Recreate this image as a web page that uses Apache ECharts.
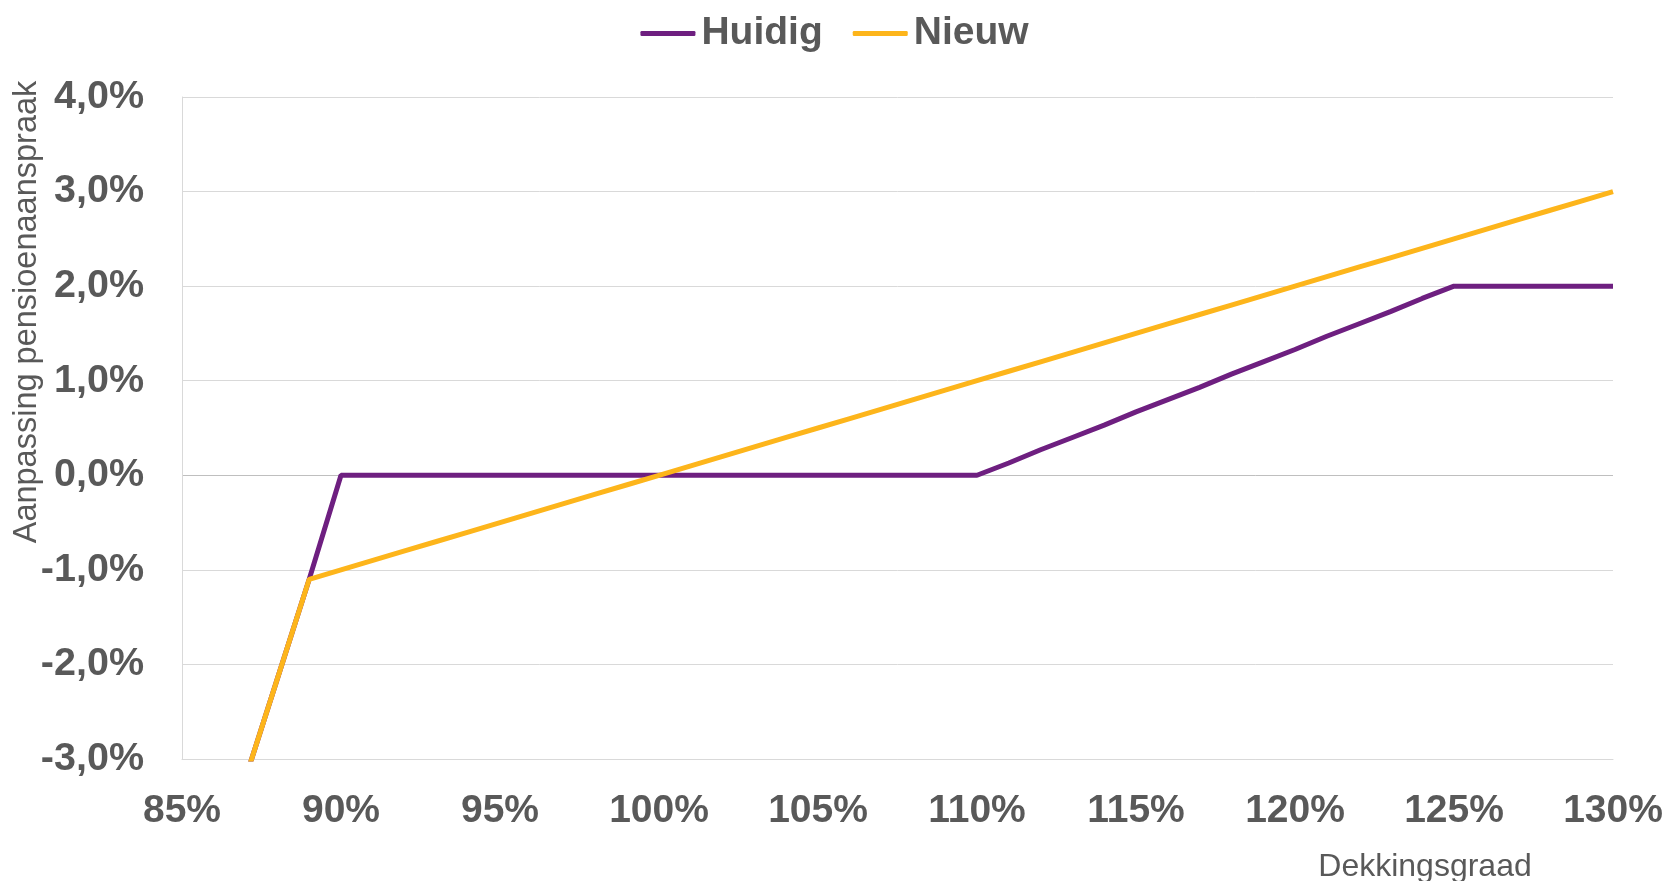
<!DOCTYPE html>
<html>
<head>
<meta charset="utf-8">
<script src="https://cdn.jsdelivr.net/npm/echarts@6/dist/echarts.min.js"></script>
<style>
  html, body { margin: 0; padding: 0; background: #ffffff; }
  #chart { width: 1669px; height: 881px; }
</style>
</head>
<body>
<div id="chart"></div>
<script>
// Dekkingsgraad (%)
var dekkingsgraad = [87, 88, 89, 90, 91, 92, 93, 94, 95, 96, 97, 98, 99, 100,
  101, 102, 103, 104, 105, 106, 107, 108, 109, 110,
  111, 112, 113, 114, 115, 116, 117, 118, 119, 120,
  121, 122, 123, 124, 125, 126, 127, 128, 129, 130];
// Aanpassing pensioenaanspraak (%) - Huidig
var huidig = [-3.2, -2.15, -1.1, 0, 0, 0, 0, 0, 0, 0, 0, 0, 0, 0,
  0, 0, 0, 0, 0, 0, 0, 0, 0, 0,
  0.13, 0.27, 0.4, 0.53, 0.67, 0.8, 0.93, 1.07, 1.2, 1.33,
  1.47, 1.6, 1.73, 1.87, 2.0, 2.0, 2.0, 2.0, 2.0, 2.0];
// Aanpassing pensioenaanspraak (%) - Nieuw
var nieuw = [-3.2, -2.15, -1.1, -1.0, -0.9, -0.8, -0.7, -0.6, -0.5, -0.4, -0.3, -0.2, -0.1, 0.0,
  0.1, 0.2, 0.3, 0.4, 0.5, 0.6, 0.7, 0.8, 0.9, 1.0,
  1.1, 1.2, 1.3, 1.4, 1.5, 1.6, 1.7, 1.8, 1.9, 2.0,
  2.1, 2.2, 2.3, 2.4, 2.5, 2.6, 2.7, 2.8, 2.9, 3.0];
var seriesNames = ['Huidig', 'Nieuw'];
var xTicks = { min: 85, max: 130, interval: 5 };
var yTicks = { min: -3, max: 4, interval: 1 };

function pairs(xs, ys) { return xs.map(function (x, i) { return [x, ys[i]]; }); }

var FONT = '"Liberation Sans", Arial, sans-serif';
var TEXT = '#595959';
var GRID = '#D9D9D9';

var chart = echarts.init(document.getElementById('chart'), null, { renderer: 'canvas' });
chart.setOption({
  animation: false,
  backgroundColor: '#ffffff',
  textStyle: { fontFamily: FONT },
  legend: {
    top: 9,
    left: 'center',
    itemWidth: 55,
    itemHeight: 5,
    itemGap: 30,
    icon: 'roundRect',
    textStyle: { fontFamily: FONT, fontSize: 39, fontWeight: 'bold', color: TEXT, padding: [0, 0, 0, 1] },
    data: seriesNames
  },
  grid: { left: 182, right: 56, top: 97, bottom: 122, containLabel: false, outerBoundsMode: 'none' },
  xAxis: {
    type: 'value',
    min: xTicks.min, max: xTicks.max, interval: xTicks.interval,
    name: 'Dekkingsgraad',
    nameLocation: 'end',
    nameGap: -188,
    nameMoveOverlap: false,
    nameTextStyle: { fontFamily: FONT, fontSize: 32, color: TEXT, align: 'center', verticalAlign: 'top', padding: [92, 0, 0, 0] },
    axisLine: { show: true, onZero: false, lineStyle: { color: GRID, width: 1 } },
    axisTick: { show: false },
    splitLine: { show: false },
    axisLabel: {
      margin: 33,
      fontFamily: FONT, fontSize: 39, fontWeight: 'bold', color: TEXT,
      formatter: function (v) { return v + '%'; }
    }
  },
  yAxis: {
    type: 'value',
    min: yTicks.min, max: yTicks.max, interval: yTicks.interval,
    name: 'Aanpassing pensioenaanspraak',
    nameLocation: 'middle',
    nameRotate: 90,
    nameGap: 138,
    nameMoveOverlap: false,
    nameTextStyle: { fontFamily: FONT, fontSize: 32.5, color: TEXT, padding: [0, 0, 0, 232] },
    axisLine: { show: true, lineStyle: { color: GRID, width: 1 } },
    axisTick: { show: false },
    splitLine: { show: true, lineStyle: { color: [GRID, GRID, GRID, '#BFBFBF', GRID, GRID, GRID, GRID], width: 1 } },
    axisLabel: {
      margin: 38,
      fontFamily: FONT, fontSize: 39.5, fontWeight: 'bold', color: TEXT,
      formatter: function (v) { return v.toFixed(1).replace('.', ',') + '%'; }
    }
  },
  series: [
    {
      name: seriesNames[0], type: 'line', symbol: 'none', clip: true,
      data: pairs(dekkingsgraad, huidig),
      lineStyle: { color: '#6E1F80', width: 5 },
      itemStyle: { color: '#6E1F80' }
    },
    {
      name: seriesNames[1], type: 'line', symbol: 'none', clip: true,
      data: pairs(dekkingsgraad, nieuw),
      lineStyle: { color: '#FDB51B', width: 5 },
      itemStyle: { color: '#FDB51B' }
    }
  ]
});
</script>
</body>
</html>
